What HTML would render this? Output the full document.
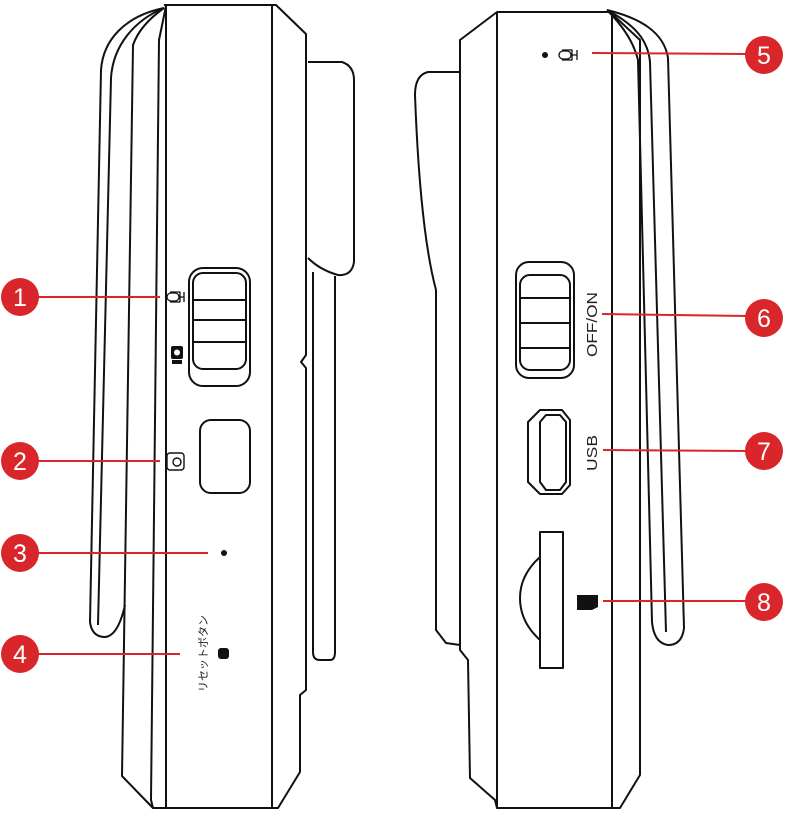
<!DOCTYPE html>
<html><head><meta charset="utf-8"><style>
html,body{margin:0;padding:0;background:#fff;}
svg{display:block;}
</style></head><body>
<svg width="787" height="814" viewBox="0 0 787 814" xmlns="http://www.w3.org/2000/svg">
<g fill="none" stroke="#111" stroke-width="2" stroke-linejoin="round">
<!-- LEFT DEVICE -->
<!-- strap -->
<path d="M164,8 C125,16 103,40 101,70 L90,622 Q92,637 105,637 Q118,636 125,605"/>
<path d="M164,8 C135,20 113,45 111,78 L98,625"/>
<!-- body -->
<path d="M164,5 L276,5 L306,34 L306,355 L301,362 L306,368 L306,690 L300,695 L300,772 L278,808 L153,808 L122,776 L133,45 Q140,25 164,8"/>
<path d="M166,6 L159,40 L151,800 L153,808"/>
<line x1="166" y1="5" x2="166" y2="808"/>
<line x1="272" y1="5" x2="272" y2="808"/>
<!-- clip -->
<path d="M308,62 L342,62 Q354,66 354,80 L354,262 Q352,276 338,275 Q320,270 308,258"/>
<path d="M313,272 L313,652 Q313,660 320,660 L330,660 Q335,660 335,652 L335,276"/>
<!-- slider -->
<rect x="189" y="268" width="61" height="118" rx="14"/>
<rect x="193" y="273" width="53" height="96" rx="10"/>
<line x1="193" y1="300" x2="246" y2="300"/>
<line x1="193" y1="320" x2="246" y2="320"/>
<line x1="193" y1="342" x2="246" y2="342"/>
<!-- square button -->
<rect x="200" y="420" width="50" height="73" rx="11"/>
<!-- RIGHT DEVICE -->
<path d="M497,12 L610,12 L640,40 L640,775 L620,808 L497,808 L495,800 L470,778 L468,660 L460,650 L460,40 Z"/>
<line x1="497" y1="12" x2="497" y2="808"/>
<line x1="612" y1="12" x2="612" y2="808"/>
<!-- left clip -->
<path d="M460,72 L428,72 Q415,75 415,95 Q420,230 436,290 L436,630 L446,643 L460,645"/>
<!-- strap right -->
<path d="M607,10 C640,18 664,32 668,58 L684,628 Q682,645 668,645 Q654,643 652,622 L638,60 Q632,35 607,10"/>
<path d="M607,10 C635,25 648,40 650,62 L666,632"/>
<!-- slider right -->
<rect x="516" y="262" width="58" height="116" rx="13"/>
<rect x="520" y="275" width="50" height="95" rx="10"/>
<line x1="520" y1="298" x2="570" y2="298"/>
<line x1="520" y1="323" x2="570" y2="323"/>
<line x1="520" y1="348" x2="570" y2="348"/>
<!-- usb -->
<path d="M540,410 L562,410 L570,420 L570,485 L562,494 L540,494 L528,482 L528,422 Z"/>
<path d="M546,415 L560,415 L566,422 L566,482 L560,490 L546,490 L540,482 L540,422 Z"/>
<!-- sd -->
<rect x="540" y="532" width="23" height="136"/>
<path d="M540,557 Q520,575 520,598 Q520,622 540,640"/>
<!-- mic icons -->
<rect x="167" y="293" width="12" height="8" rx="4" stroke-width="1.3"/>
<path d="M170,292 L180,292 L180,302 L170,302 M180,297 L184,297 M184,292 L184,302" stroke-width="1.3"/>
<rect x="559" y="51" width="12" height="8" rx="4" stroke-width="1.3"/>
<path d="M562,50 L572,50 L572,60 L562,60 M572,55 L577,55 M577,50 L577,60" stroke-width="1.3"/>
<!-- photo icon -->
<rect x="167" y="453" width="17" height="17" rx="3" stroke-width="1.4"/>
<circle cx="177" cy="462" r="4" stroke-width="1.4"/>
</g>
<g fill="#111">
<rect x="171" y="346" width="12" height="13" rx="2"/>
<circle cx="177" cy="352.5" r="3" fill="#fff"/>
<rect x="172" y="360" width="10" height="4"/>
<circle cx="224" cy="553" r="3"/>
<rect x="218" y="648" width="11" height="11" rx="3"/>
<circle cx="545" cy="55" r="3"/>
<path d="M577,595 L598,595 L598,607 L592,610 L577,610 Z"/>
</g>
<text transform="translate(207,692) rotate(-90)" font-family="'Liberation Sans','Noto Sans CJK JP',sans-serif" font-size="11" fill="#222">リセットボタン</text>
<text transform="translate(597,357) rotate(-90)" font-family="'Liberation Sans',sans-serif" font-size="15" fill="#222" textLength="65" lengthAdjust="spacingAndGlyphs">OFF/ON</text>
<text transform="translate(597,471) rotate(-90)" font-family="'Liberation Sans',sans-serif" font-size="15" fill="#222" textLength="36" lengthAdjust="spacingAndGlyphs">USB</text>
<!-- callouts -->
<g stroke="#d9262a" stroke-width="2">
<line x1="36" y1="297" x2="160" y2="297"/>
<line x1="36" y1="461" x2="160" y2="461"/>
<line x1="36" y1="553" x2="208" y2="553"/>
<line x1="36" y1="654" x2="180" y2="654"/>
<line x1="592" y1="53" x2="748" y2="54"/>
<line x1="602" y1="314" x2="748" y2="316"/>
<line x1="603" y1="450" x2="748" y2="451"/>
<line x1="603" y1="601" x2="748" y2="601"/>
</g>
<g fill="#d9262a">
<circle cx="20" cy="297" r="19"/><circle cx="20" cy="461" r="19"/>
<circle cx="20" cy="553" r="19"/><circle cx="20" cy="654" r="19"/>
<circle cx="764" cy="55" r="19"/><circle cx="764" cy="318" r="19"/>
<circle cx="764" cy="451" r="19"/><circle cx="764" cy="602" r="19"/>
</g>
<g fill="#fff" font-family="'Liberation Sans',sans-serif" font-size="25" text-anchor="middle">
<text x="20" y="306">1</text><text x="20" y="470">2</text>
<text x="20" y="562">3</text><text x="20" y="663">4</text>
<text x="764" y="64">5</text><text x="764" y="327">6</text>
<text x="764" y="460">7</text><text x="764" y="611">8</text>
</g>
</svg>
</body></html>
